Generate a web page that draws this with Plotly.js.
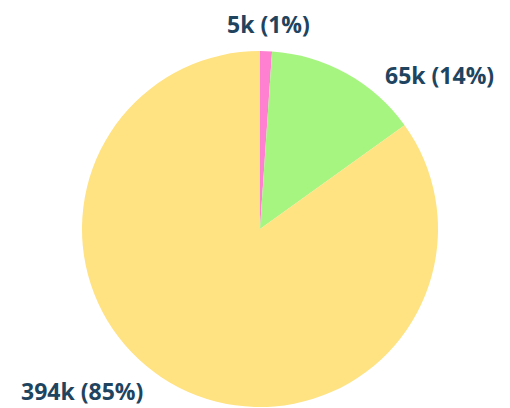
<!DOCTYPE html>
<html>
<head>
<meta charset="utf-8">
<script src="https://cdn.plot.ly/plotly-3.0.1.min.js"></script>
<style>html,body{margin:0;padding:0;background:#fff;}#chart{width:510px;height:408px;}</style>
</head>
<body>
<div id="chart"></div>
<script>
const categories = ["A", "B", "C"];
const values = [5, 65, 394];
const valueLabels = ["5k", "65k", "394k"];
const colors = ["#FF80D0", "#A6F580", "#FFE282"];

const total = values.reduce((a, b) => a + b, 0);
const texts = values.map((v, i) => valueLabels[i] + " (" + Math.round(v / total * 100) + "%)");

// label anchor positions (paper coordinates)
const labelPos = [
  {x: 268 / 510, y: 1 - 24 / 408},
  {x: 439 / 510, y: 1 - 75 / 408},
  {x: 82 / 510, y: 1 - 391 / 408}
];

const trace = {
  type: "pie",
  labels: categories,
  values: values,
  sort: false,
  direction: "clockwise",
  rotation: 0,
  marker: {colors: colors, line: {width: 0}},
  textinfo: "none",
  hoverinfo: "none",
  domain: {x: [82 / 510, 438 / 510], y: [1 / 408, 357 / 408]},
  showlegend: false
};

const annotations = texts.map((t, i) => ({
  text: t,
  xref: "paper", yref: "paper",
  x: labelPos[i].x, y: labelPos[i].y,
  xanchor: "center", yanchor: "middle",
  borderpad: 0,
  showarrow: false,
  font: {family: "Open Sans", size: 23, color: "#1E4460", weight: "bold"}
}));

Plotly.newPlot("chart", [trace], {
  width: 510, height: 408,
  margin: {l: 0, r: 0, t: 0, b: 0},
  paper_bgcolor: "#ffffff",
  showlegend: false,
  annotations: annotations
}, {displayModeBar: false, staticPlot: true});
</script>
</body>
</html>
